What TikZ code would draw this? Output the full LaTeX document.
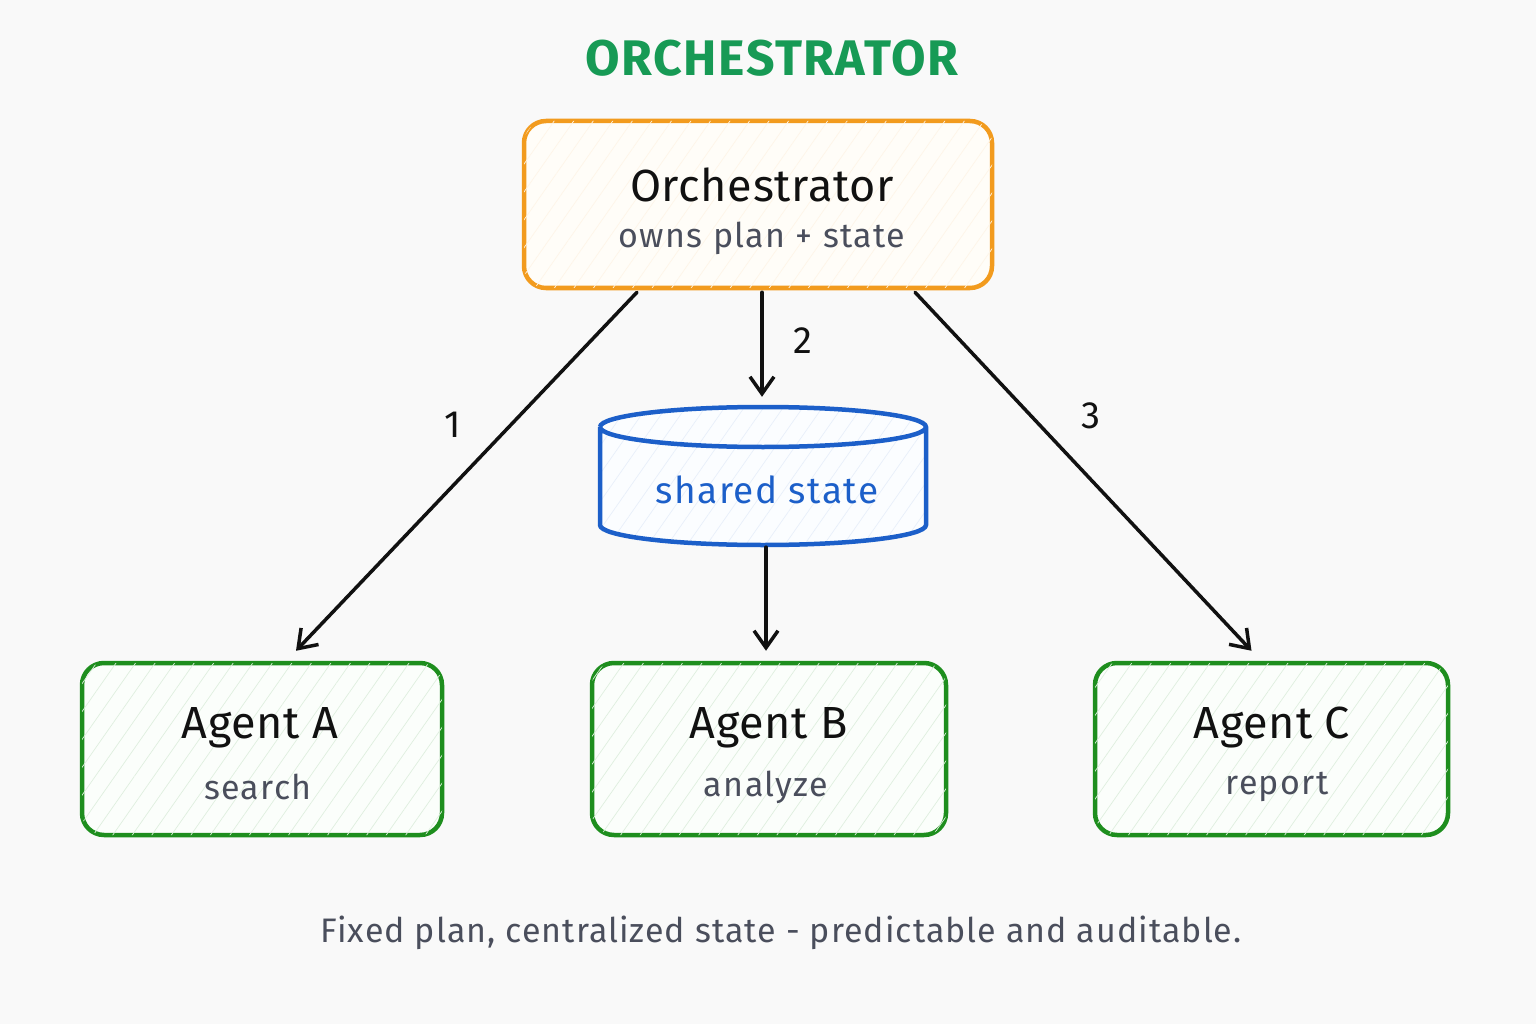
\documentclass[tikz,border=0pt]{standalone}
\usepackage{fontspec}
\setmainfont{Fira Sans}
\usetikzlibrary{arrows.meta,calc,patterns.meta}
\definecolor{bgc}{HTML}{F9F9F9}
\definecolor{orng}{HTML}{F29B1E}
\definecolor{orngfill}{HTML}{FFFDF8}
\definecolor{blu}{HTML}{1C5FC9}
\definecolor{blufill}{HTML}{FBFDFF}
\definecolor{grn}{HTML}{1E8E1E}
\definecolor{grnfill}{HTML}{FBFEFB}
\definecolor{ttlgreen}{HTML}{179A55}
\definecolor{subgray}{HTML}{4A4E5C}
\definecolor{ink}{HTML}{111111}
\tikzset{
  box/.style={rounded corners=22pt, line width=4.5pt, inner sep=0pt},
  orchbox/.style={box, draw=orng, fill=orngfill,
     postaction={pattern={Lines[angle=55,distance=16pt,line width=0.7pt]}, pattern color=orng!10}},
  agentbox/.style={box, draw=grn, fill=grnfill, minimum width=356pt, minimum height=172pt,
     postaction={pattern={Lines[angle=55,distance=16pt,line width=0.7pt]}, pattern color=grn!14}},
  maintext/.style={text=ink, font=\fontsize{45}{48}\selectfont\addfontfeature{LetterSpace=1.5}},
  subtext/.style={text=subgray, font=\fontsize{34}{36}\selectfont\addfontfeature{LetterSpace=4}},
  captext/.style={text=subgray, font=\fontsize{34}{36}\selectfont\addfontfeature{LetterSpace=3}},
  conn/.style={draw=ink, line width=3.5pt, line cap=round,
     -{Straight Barb[length=17pt,width=24pt,line width=3.5pt]}},
  numlabel/.style={text=ink, font=\fontsize{38}{40}\selectfont},
}
\begin{document}
\begin{tikzpicture}[x=1pt,y=-1pt]
\useasboundingbox[fill=bgc] (0,0) rectangle (1536,1024);

% title
\node[text=ttlgreen, font=\fontsize{50}{54}\selectfont\bfseries\addfontfeature{LetterSpace=3}] (title) at (772,58) {ORCHESTRATOR};

% orchestrator
\node[orchbox, minimum width=468pt, minimum height=167pt] (orch) at (758,204.5) {};
\node[maintext] (orchname) at (762,185) {Orchestrator};
\node[subtext] (orchsub) at (762,238) {owns plan + state};

% shared state cylinder
\node[minimum width=326pt, minimum height=138pt, inner sep=0pt] (db) at (763,476) {};
\path[fill=blufill, postaction={pattern={Lines[angle=55,distance=16pt,line width=0.7pt]}, pattern color=blu!10}]
  (600,427) arc[start angle=180, end angle=0, x radius=163pt, y radius=20pt]
  -- (926,525) arc[start angle=0, end angle=-180, x radius=163pt, y radius=20pt] -- cycle;
\draw[blu, line width=4.5pt]
  (600,427) arc[start angle=180, end angle=-180, x radius=163pt, y radius=20pt]
  (600,427) -- (600,525) arc[start angle=180, end angle=360, x radius=163pt, y radius=20pt] -- (926,427);
\node[text=blu, font=\fontsize{37}{40}\selectfont\addfontfeature{LetterSpace=4}] (dbtext) at (767,490) {shared state};

% agents
\node[agentbox, minimum width=360pt] (agA) at (262,749) {};
\node[maintext] (agAname) at (260,728) {Agent A};
\node[subtext] (agAsub) at (258,787) {search};

\node[agentbox, minimum width=354pt] (agB) at (769,749) {};
\node[maintext] (agBname) at (769,728) {Agent B};
\node[subtext] (agBsub) at (766,787) {analyze};

\node[agentbox, minimum width=353pt] (agC) at (1271.5,749) {};
\node[maintext] (agCname) at (1272,728) {Agent C};
\node[subtext] (agCsub) at (1277,787) {report};

% connectors
\coordinate (s1) at ($(orch.south)+(-121,2)$);
\coordinate (e1) at ($(agA.north)+(34,-10)$);
\coordinate (s2) at ($(orch.south)+(4,2)$);
\coordinate (e2) at ($(db.north)+(-1,-10)$);
\coordinate (s3) at ($(orch.south)+(157,2)$);
\coordinate (e3) at ($(agC.north)+(-20,-10)$);
\coordinate (s4) at ($(db.south)+(3,2)$);
\coordinate (e4) at ($(agB.north)+(-3,-10)$);
\draw[conn] (s1) -- (e1);
\draw[conn] (s2) -- (e2);
\draw[conn] (s3) -- (e3);
\draw[conn] (s4) -- (e4);

\node[numlabel] (n1) at (453,425) {1};
\node[numlabel] (n2) at (803,341) {2};
\node[numlabel] (n3) at (1091,416) {3};

% caption
\node[captext] (caption) at (781,933) {Fixed plan, centralized state - predictable and auditable.};
\end{tikzpicture}
\end{document}
